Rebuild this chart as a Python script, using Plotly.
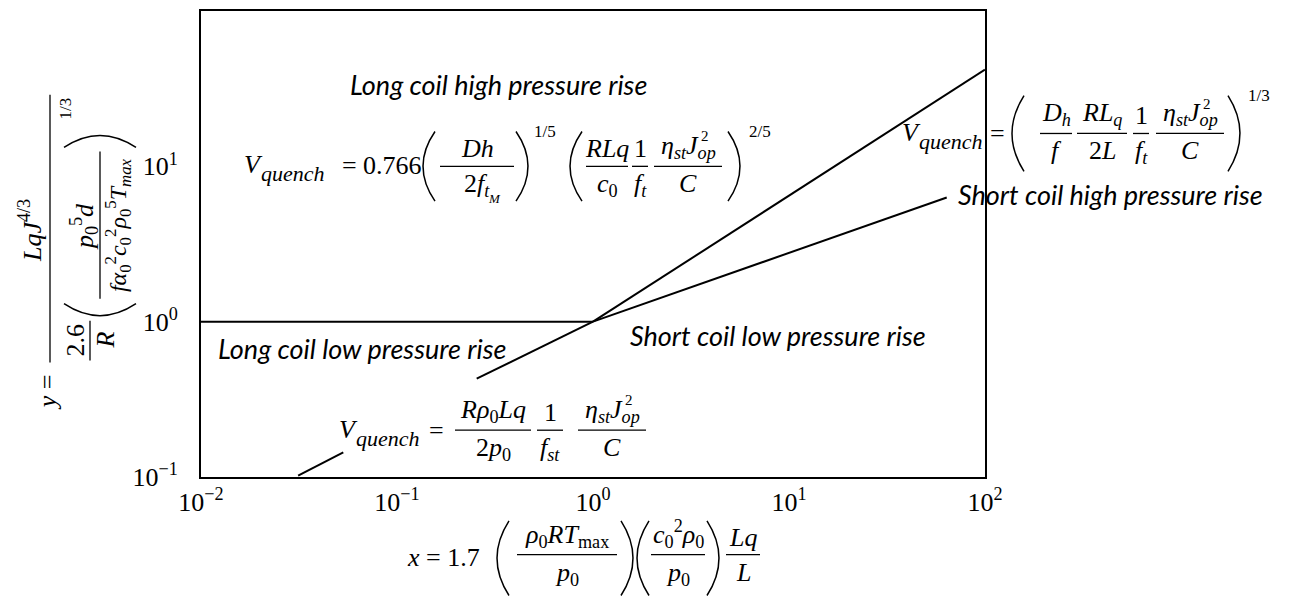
import plotly.graph_objects as go

# ---------------- data ----------------
long_low_x = [0.01, 1.0]
long_low_y = [1.0, 1.0]
long_high_x = [1.0, 100.0]
long_high_y = [1.0, 41.9]
short_high_x = [1.0, 63.8]
short_high_y = [1.0, 6.3]
short_low_x_a = [0.0313, 0.0532]
short_low_y_a = [0.102, 0.144]
short_low_x_b = [0.255, 1.0]
short_low_y_b = [0.43, 1.0]

x_tick_vals = [0.01, 0.1, 1, 10, 100]
x_tick_text = ["10<sup>−2</sup>", "10<sup>−1</sup>", "10<sup>0</sup>", "10<sup>1</sup>", "10<sup>2</sup>"]
y_tick_vals = [0.1, 1, 10, 100]
y_tick_text = ["10<sup>−1</sup>", "10<sup>0</sup>", "10<sup>1</sup>", "10<sup>2</sup>"]

region_labels = ["Long coil high pressure rise", "Short coil high pressure rise",
                 "Short coil low pressure rise", "Long coil low pressure rise"]

# ---------------- layout helpers (pixel -> paper) ----------------
W, H = 1293, 601
L, R, T, B = 201, 985, 9, 477
MATH = "Liberation Serif"
SANS = "Lato"
MS = 26

def px(x):
    return (x - L) / (R - L)

def py(y):
    return (B - y) / (B - T)

ann = []
shapes = []

def t(x, y, s, size=MS, xa="center", ya="middle", angle=0, family=MATH):
    ann.append(dict(x=px(x), y=py(y), xref="paper", yref="paper", text=s,
                    showarrow=False, xanchor=xa, yanchor=ya, textangle=angle,
                    font=dict(family=family, size=size, color="black")))

def seg(x0, y0, x1, y1, w=1.3):
    shapes.append(dict(type="line", xref="paper", yref="paper",
                       x0=px(x0), y0=py(y0), x1=px(x1), y1=py(y1),
                       line=dict(color="black", width=w)))

def frac(xc, y, num, den, w, size=MS, gap=1):
    seg(xc - w / 2, y, xc + w / 2, y)
    t(xc, y - gap, num, size, ya="bottom")
    t(xc, y + gap, den, size, ya="top")

def path(pts):
    (a, b), (c, d), (e, f) = pts
    return f"M {px(a)},{py(b)} Q {px(c)},{py(d)} {px(e)},{py(f)}"

def paren(x0, x1, y0, y1, left=True, w=1.5):
    ym = (y0 + y1) / 2
    if left:
        p = path([(x1, y0), (2 * x0 - x1, ym), (x1, y1)])
    else:
        p = path([(x0, y0), (2 * x1 - x0, ym), (x0, y1)])
    shapes.append(dict(type="path", xref="paper", yref="paper", path=p,
                       line=dict(color="black", width=w)))

def rparen(xa, xb, y_edge, y_bulge, w=1.5):
    xm = (xa + xb) / 2
    p = path([(xa, y_edge), (xm, 2 * y_bulge - y_edge), (xb, y_edge)])
    shapes.append(dict(type="path", xref="paper", yref="paper", path=p,
                       line=dict(color="black", width=w)))

def vq(x, y):
    # V with a large 'quench' subscript
    t(x, y, "<i>V</i>", MS, xa="left")
    t(x + 17, y + 9, "<i>quench</i>", 22, xa="left")

ETAJ = "<i>η</i><sub><i>st</i></sub><i>J</i><sub><i>op</i></sub>"

# ---- region labels ----
t(498, 83, f"<i>{region_labels[0]}</i>", 27, family=SANS)
t(1110, 193, f"<i>{region_labels[1]}</i>", 27, family=SANS)
t(778, 335, f"<i>{region_labels[2]}</i>", 27, family=SANS)
t(362, 348, f"<i>{region_labels[3]}</i>", 27, family=SANS)

# ---- equation 1 (long coil high pressure rise) ----
vq(242, 163)
t(349, 164, "=")
t(392, 164, "0.766")
paren(423, 435, 130, 200, True)
frac(477, 165, "<i>Dh</i>", "2<i>f</i><sub><i>t</i></sub>", 74)
t(494, 197, "<i>M</i>", 13)
paren(516, 528, 130, 200, False)
t(545, 130, "1/5", 17)
paren(570, 582, 130, 200, True)
frac(607, 165, "<i>RLq</i>", "<i>c</i><sub>0</sub>", 42)
frac(640, 165, "1", "<i>f</i><sub><i>t</i></sub>", 16)
frac(688, 165, ETAJ, "<i>C</i>", 68)
t(705, 135, "2", 15)
paren(728, 740, 130, 200, False)
t(760, 130, "2/5", 17)

# ---- equation 2 (short coil high pressure rise) ----
vq(900, 131)
t(997, 132, "=")
paren(1012, 1024, 94, 170, True)
frac(1056, 132, "<i>D</i><sub><i>h</i></sub>", "<i>f</i>", 32)
frac(1102, 132, "<i>RL</i><sub><i>q</i></sub>", "2<i>L</i>", 50)
frac(1141, 132, "1", "<i>f</i><sub><i>t</i></sub>", 16)
frac(1190, 132, ETAJ, "<i>C</i>", 68)
t(1207, 102, "2", 15)
paren(1228, 1240, 94, 170, False)
t(1259, 94, "1/3", 17)

# ---- equation 3 (short coil low pressure rise) ----
vq(337, 429)
t(436, 430, "=")
frac(493, 430, "<i>Rρ</i><sub>0</sub><i>Lq</i>", "2<i>p</i><sub>0</sub>", 76)
frac(550, 430, "1", "<i>f</i><sub><i>st</i></sub>", 26)
frac(612, 430, ETAJ, "<i>C</i>", 68)
t(629, 400, "2", 15)

# ---- x-axis title ----
t(443, 558, "<i>x</i> = 1.7")
paren(497, 509, 521, 596, True)
frac(567, 555, "<i>ρ</i><sub>0</sub><i>RT</i><sub>max</sub>", "<i>p</i><sub>0</sub>", 100)
paren(621, 633, 521, 596, False)
paren(637, 649, 521, 596, True)
frac(678, 555, "<i>c</i><sub>0</sub><sup>2</sup><i>ρ</i><sub>0</sub>", "<i>p</i><sub>0</sub>", 54)
paren(707, 719, 521, 596, False)
frac(743, 555, "<i>Lq</i>", "<i>L</i>", 34)

# ---- y-axis title (rotated) ----
t(47, 392, "<i>y</i> =", angle=-90)
seg(50, 93, 50, 362)
t(30, 230, "<i>LqJ</i><sup>4/3</sup>", angle=-90)
t(76, 340, "2.6", angle=-90)
seg(90, 320, 90, 360)
t(106, 340, "<i>R</i>", angle=-90)
rparen(64, 136, 303, 315)
rparen(64, 136, 146, 134)
t(84, 225, "<i>p</i><sub>0</sub><sup>5</sup><i>d</i>", angle=-90)
seg(100, 150, 100, 298)
t(118, 224, "<i>fα</i><sub>0</sub><sup>2</sup><i>c</i><sub>0</sub><sup>2</sup><i>ρ</i><sub>0</sub><sup>5</sup><i>T</i><sub><i>max</i></sub>",
  24, angle=-90)
t(66, 107, "1/3", 17, angle=-90)

# ---------------- figure ----------------
fig = go.Figure()
line = dict(color="black", width=2)
for xs, ys in [(long_low_x, long_low_y), (long_high_x, long_high_y),
               (short_high_x, short_high_y), (short_low_x_a, short_low_y_a),
               (short_low_x_b, short_low_y_b)]:
    fig.add_trace(go.Scatter(x=xs, y=ys, mode="lines", line=line,
                             showlegend=False, hoverinfo="skip"))

axis_common = dict(type="log", showgrid=False, zeroline=False, showline=True,
                   mirror=True, linecolor="black", linewidth=2,
                   ticks="outside", tickcolor="rgba(0,0,0,0)",
                   tickfont=dict(family=MATH, size=26, color="black"))
fig.update_xaxes(range=[-2, 2], tickvals=x_tick_vals, ticktext=x_tick_text,
                 ticklen=1, **axis_common)
fig.update_yaxes(range=[-1, 2], tickvals=y_tick_vals, ticktext=y_tick_text,
                 ticklen=16, **axis_common)

fig.update_layout(width=W, height=H, margin=dict(l=L, r=W - R, t=T, b=H - B),
                  paper_bgcolor="white", plot_bgcolor="white",
                  annotations=ann, shapes=shapes, showlegend=False)

fig.write_html("out.html", config={"displayModeBar": False},
               post_script="document.body.style.margin='0px';document.body.style.padding='0px';")
